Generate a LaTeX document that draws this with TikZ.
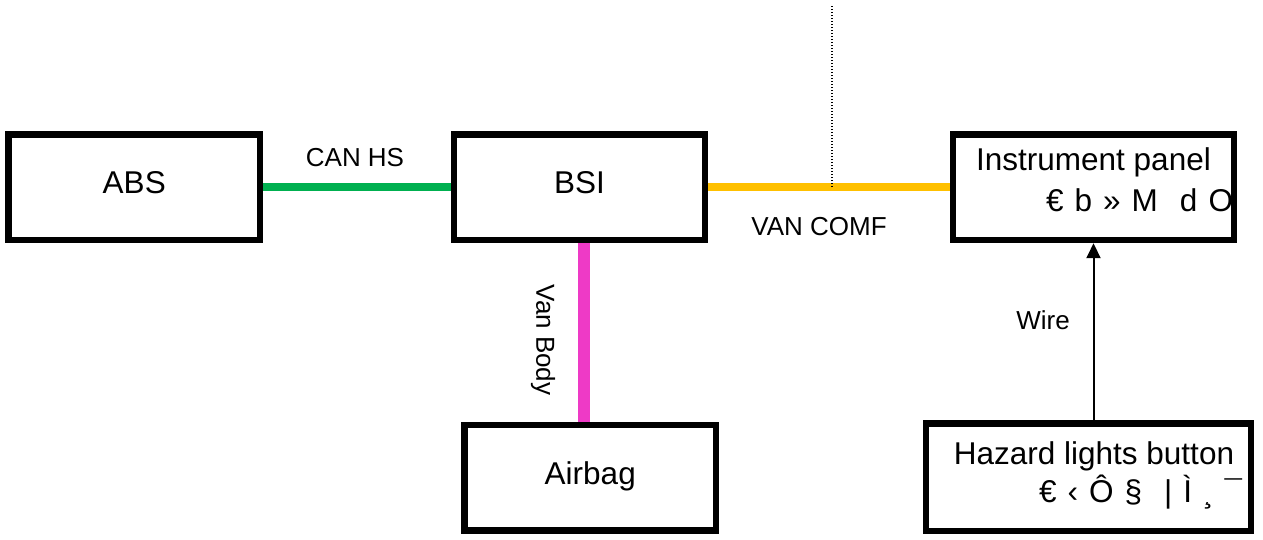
\documentclass[tikz,border=0pt]{standalone}
\usepackage{fontspec}
\setmainfont{Liberation Sans}
\usepackage{tikz}
\usetikzlibrary{arrows.meta,positioning,calc}
\definecolor{busGreen}{HTML}{00B050}
\definecolor{busOrange}{HTML}{FFC000}
\definecolor{busPink}{HTML}{EE3AC6}
\newcommand{\widespaces}{\spaceskip=11pt\relax}

\begin{document}
\begin{tikzpicture}[
    x=1pt, y=1pt,
    ecu/.style={draw=black, line width=6.5pt, minimum height=105.5pt, inner sep=0pt, font=\fontsize{31.5}{36}\selectfont, text height=22pt, text depth=9pt},
    ecutext/.style={font=\fontsize{31.5}{36}\selectfont, inner sep=0pt},
    codetext/.style={ecutext, anchor=base west},
    bus/.style={draw=#1, line width=8pt},
    buslabel/.style={font=\fontsize{26}{30}\selectfont, inner sep=0pt},
    tap/.style={draw=black, line width=1.5pt, dash pattern=on 1.5pt off 1.5pt},
    wire/.style={-{Triangle[length=15pt,width=14pt]}, line width=2pt, draw=black}
]
\useasboundingbox (0,0) rectangle (1263,540);

% texts of the two right-hand units
\node[ecutext, anchor=base] (panelname) at (1093.5,369) {Instrument panel};
\node[codetext] (panelcode) at (1046,328) {\widespaces € b » M\ \ d O};
\node[ecutext, anchor=base] (hazardname) at (1094,75) {Hazard lights button};
\node[codetext] (hazardcode) at (1039,37) {\widespaces € ‹ Ô §\ \ | Ì ¸ ¯};

% units
\node[ecu, minimum width=251.5pt] (abs) at (134.25,352.75) {ABS};
\node[ecu, minimum width=251pt] (bsi) at (579.5,352.75) {BSI};
\node[ecu, minimum width=281pt] (panel) at (1093.5,352.75) {};
\node[ecu, minimum width=251.5pt] (airbag) at (590.25,62.25) {Airbag};
\node[ecu, minimum width=325pt, minimum height=107.5pt] (hazard) at (1088.5,62.75) {};

% buses
\draw[bus=busGreen] (abs.east) -- (bsi.west);
\draw[bus=busOrange] (bsi.east) -- (panel.west);
\draw[bus=busPink, line width=12pt] ([xshift=4.5pt]bsi.south) -- ([xshift=4.5pt]bsi.south |- airbag.north);
\coordinate (probe) at (832,535);
\draw[tap] (probe |- bsi.east) -- (probe);
\draw[wire] (hazard.north -| panel.south) -- (panel.south);

% labels
\node[buslabel] (canhs) at (355,382) {CAN HS};
\node[buslabel] (vancomf) at (819,313) {VAN COMF};
\node[buslabel, rotate=-90] (vanbody) at (543,200) {Van Body};
\node[buslabel] (wirelabel) at (1043,220) {Wire};
\end{tikzpicture}
\end{document}
